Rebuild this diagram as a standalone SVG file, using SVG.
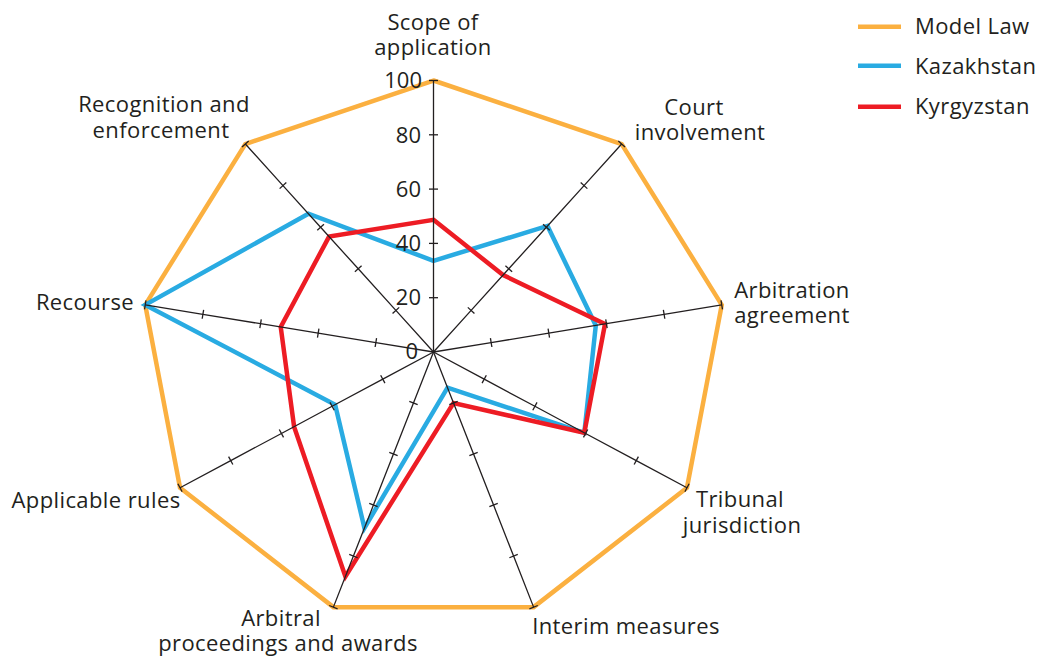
<svg xmlns="http://www.w3.org/2000/svg" width="1040" height="658" viewBox="0 0 1040 658">
<style>
text{font-family:"Open Sans","Noto Sans","Liberation Sans",sans-serif;font-size:22px;letter-spacing:0.4px;fill:#231f20}
.c{text-anchor:middle}
.e{text-anchor:end;letter-spacing:0}
.axis{fill:none;stroke:#231f20;stroke-width:1.3;marker-mid:url(#tick);marker-end:url(#tick)}
.s{fill:none;stroke-width:4.5;stroke-linejoin:miter;stroke-miterlimit:10}
.model{stroke:#fbb040}
.kaz{stroke:#29abe2}
.kyr{stroke:#ed1c24}
</style>
<defs>
<marker id="tick" markerUnits="userSpaceOnUse" markerWidth="12" markerHeight="12" refX="0" refY="0" viewBox="-6 -6 12 12" orient="auto" overflow="visible">
<line x1="0" y1="-4.5" x2="0" y2="4.5" stroke="#231f20" stroke-width="1.3"/>
</marker>
</defs>
<rect width="1040" height="658" fill="#ffffff"/>
<g id="series">
<polygon id="model-law" class="s model" points="433.5,80.5 621.65,144.03 721.75,304.87 686.98,487.75 533.6,607.13 333.4,607.13 180.02,487.75 145.25,304.87 245.35,144.03"/>
<polygon id="kazakhstan" class="s kaz" points="433.5,260.78 547.52,225.97 595.79,325.47 584.32,432.77 447.51,387.72 364.43,528.04 335.15,404.67 145.25,304.87 308.38,213.7"/>
<polygon id="kyrgyzstan" class="s kyr" points="433.5,219.78 503.12,275.05 605.01,323.96 584.32,432.77 453.52,403.03 345.41,576.51 294.09,426.66 280.73,327.02 329.08,236.58"/>
</g>
<g id="connectors">
<polyline class="axis" points="433.5,352 433.5,297.7 433.5,243.4 433.5,189.1 433.5,134.8 433.5,80.5"/>
<polyline class="axis" points="433.5,352 471.13,310.41 508.76,268.81 546.39,227.22 584.02,185.62 621.65,144.03"/>
<polyline class="axis" points="433.5,352 491.15,342.57 548.8,333.15 606.45,323.72 664.1,314.3 721.75,304.87"/>
<polyline class="axis" points="433.5,352 484.2,379.15 534.89,406.3 585.59,433.45 636.28,460.6 686.98,487.75"/>
<polyline class="axis" points="433.5,352 453.52,403.03 473.54,454.05 493.56,505.08 513.58,556.1 533.6,607.13"/>
<polyline class="axis" points="433.5,352 413.48,403.03 393.46,454.05 373.44,505.08 353.42,556.1 333.4,607.13"/>
<polyline class="axis" points="433.5,352 382.8,379.15 332.11,406.3 281.41,433.45 230.72,460.6 180.02,487.75"/>
<polyline class="axis" points="433.5,352 375.85,342.57 318.2,333.15 260.55,323.72 202.9,314.3 145.25,304.87"/>
<polyline class="axis" points="433.5,352 395.87,310.41 358.24,268.81 320.61,227.22 282.98,185.62 245.35,144.03"/>
</g>
<g id="scale">
<text class="e" x="422" y="88">100</text>
<text class="e" x="421" y="143">80</text>
<text class="e" x="421" y="197">60</text>
<text class="e" x="421" y="251">40</text>
<text class="e" x="421" y="305">20</text>
<text class="e" x="418" y="359">0</text>
</g>
<g id="node-scope"><text class="c" x="433" y="30">Scope of<tspan x="433" dy="25">application</tspan></text></g>
<g id="node-court"><text class="c" x="694" y="115">Court<tspan x="700" dy="25">involvement</tspan></text></g>
<g id="node-arbitration"><text class="c" x="792" y="298">Arbitration<tspan x="792" dy="25">agreement</tspan></text></g>
<g id="node-tribunal"><text class="c" x="740" y="507">Tribunal<tspan x="742" dy="26">jurisdiction</tspan></text></g>
<g id="node-interim"><text class="c" x="626" y="634">Interim measures</text></g>
<g id="node-arbitral"><text class="c" x="281" y="626">Arbitral<tspan x="288" dy="25">proceedings and awards</tspan></text></g>
<g id="node-applicable"><text class="c" x="96" y="508">Applicable rules</text></g>
<g id="node-recourse"><text class="c" x="85" y="310">Recourse</text></g>
<g id="node-recognition"><text class="c" x="164" y="112">Recognition and<tspan x="161" dy="26">enforcement</tspan></text></g>
<g id="legend">
<line x1="858" y1="26.7" x2="901" y2="26.7" class="s model"/>
<line x1="858" y1="65.7" x2="901" y2="65.7" class="s kaz"/>
<line x1="858" y1="106.7" x2="901" y2="106.7" class="s kyr"/>
<text x="915" y="34">Model Law</text>
<text x="915" y="74">Kazakhstan</text>
<text x="915" y="114">Kyrgyzstan</text>
</g>
</svg>
